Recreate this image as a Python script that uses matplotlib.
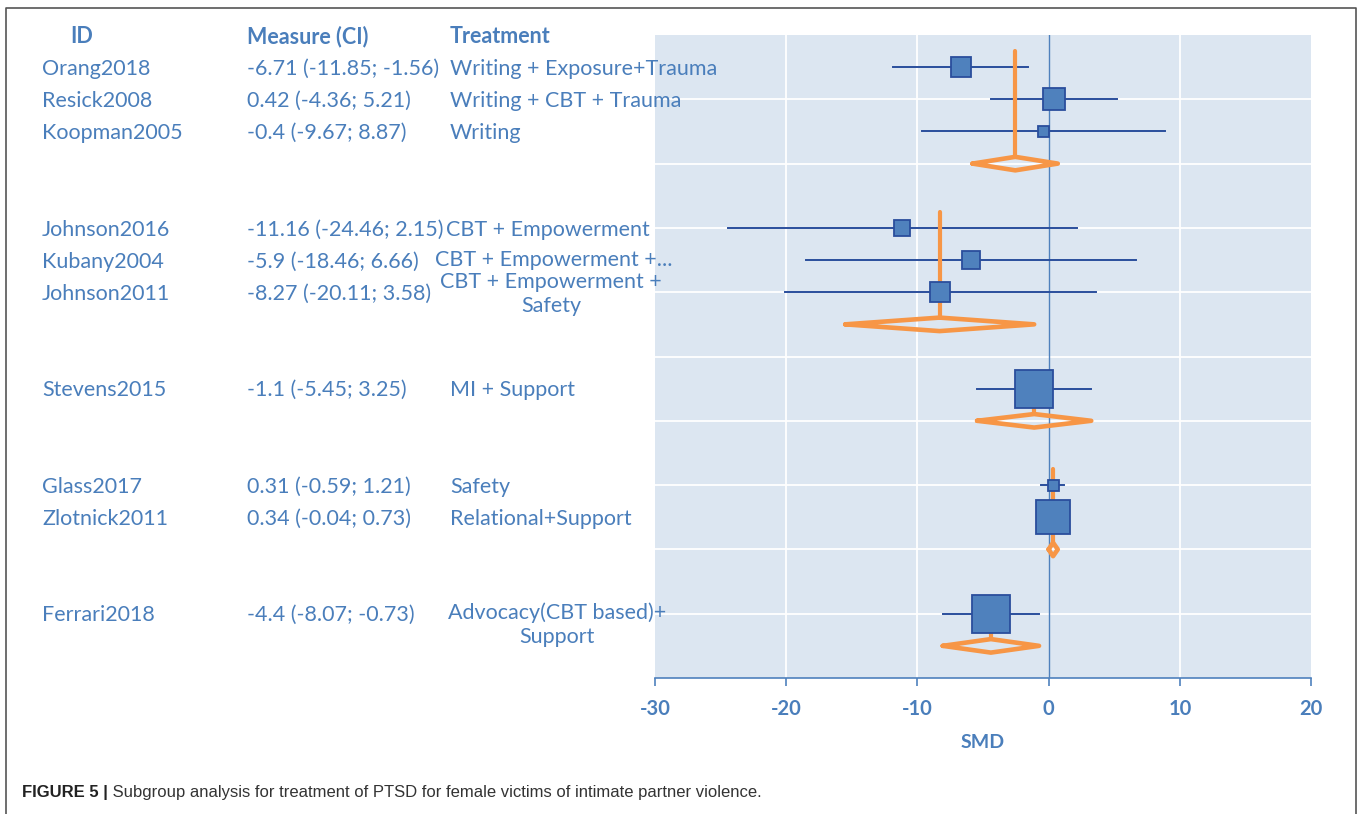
import matplotlib.pyplot as plt
import matplotlib.transforms as mtransforms

# study level data (SMD with 95% CI)
study_ids = ["Orang2018", "Resick2008", "Koopman2005", "Johnson2016", "Kubany2004",
             "Johnson2011", "Stevens2015", "Glass2017", "Zlotnick2011", "Ferrari2018"]
measures = [-6.71, 0.42, -0.4, -11.16, -5.9, -8.27, -1.1, 0.31, 0.34, -4.4]
ci_low = [-11.85, -4.36, -9.67, -24.46, -18.46, -20.11, -5.45, -0.59, -0.04, -8.07]
ci_high = [-1.56, 5.21, 8.87, 2.15, 6.66, 3.58, 3.25, 1.21, 0.73, -0.73]
treatments = ["Writing + Exposure+Trauma", "Writing + CBT + Trauma", "Writing",
              "CBT + Empowerment", "CBT + Empowerment +...", "CBT + Empowerment +\nSafety",
              "MI + Support", "Safety", "Relational+Support", "Advocacy(CBT based)+\nSupport"]
box_weight = [20, 22, 11, 16, 18, 20, 38, 11, 34, 38]

# subgroups (number of studies) and pooled estimates
group_sizes = [3, 3, 1, 2, 1]
pooled_est = [-2.54, -8.31, -1.1, 0.34, -4.4]
pooled_low = [-5.8, -15.5, -5.45, 0.0, -8.07]
pooled_high = [0.7, -1.1, 3.25, 0.7, -0.73]

x_ticks = [-30, -20, -10, 0, 10, 20]

TXT = "#4A7EBB"
BOX = "#4F81BD"
EDGE = "#2A4E9C"
ORANGE = "#F79646"
BG = "#DCE6F1"

plt.rcParams['font.family'] = ['Lato', 'DejaVu Sans']
plt.rcParams['axes.unicode_minus'] = False

# row positions: studies, then diamond row, then an empty row
study_rows, diamond_rows, group_tops = [], [], []
y = 19
for n in group_sizes:
    group_tops.append(y + 0.5)
    for _ in range(n):
        study_rows.append(y)
        y -= 1
    diamond_rows.append(y)
    y -= 2

W, H = 1358, 814
fig = plt.figure(figsize=(W / 100, H / 100), dpi=100)
ax = fig.add_axes([655 / W, (H - 678) / H, 656 / W, 643 / H])
ax.set_facecolor(BG)
ax.set_xlim(-30, 20)
ax.set_ylim(0, 20)

# grid
for gy in range(2, 20, 2):
    ax.axhline(gy, color="white", lw=1.3, zorder=1)
for gx in [-20, -10, 10]:
    ax.axvline(gx, color="white", lw=1.3, zorder=1)
ax.axvline(0, color=BOX, lw=1.0, zorder=2)

# confidence intervals and boxes
for i in range(len(measures)):
    ax.plot([ci_low[i], ci_high[i]], [study_rows[i]] * 2, color=EDGE, lw=1.4, zorder=3)
    ax.plot(measures[i], study_rows[i], marker="s", ms=box_weight[i] * 0.72,
            mfc=BOX, mec=EDGE, mew=1.3, zorder=5)

# pooled diamonds with vertical reference lines
dh = 0.21
for g in range(len(group_sizes)):
    yd = diamond_rows[g]
    ax.plot([pooled_est[g], pooled_est[g]], [yd + dh, group_tops[g]], color=ORANGE,
            lw=3.0, solid_capstyle="round", zorder=4)
    ax.plot([pooled_low[g], pooled_est[g], pooled_high[g], pooled_est[g], pooled_low[g]],
            [yd, yd + dh, yd, yd - dh, yd], color=ORANGE, lw=3.3,
            solid_joinstyle="round", solid_capstyle="round", zorder=4)

# axes styling
for s in ["top", "right", "left"]:
    ax.spines[s].set_visible(False)
ax.spines["bottom"].set_color(BOX)
ax.spines["bottom"].set_linewidth(1.2)
ax.set_yticks([])
ax.set_xticks(x_ticks)
ax.tick_params(axis="x", length=6, width=1.2, color=BOX, pad=9, labelsize=14.5,
               labelcolor=TXT)
for lab in ax.get_xticklabels():
    lab.set_fontweight("bold")
ax.set_xlabel("SMD", fontsize=14, fontweight="bold", color=TXT, labelpad=11)

# table on the left
tr = mtransforms.blended_transform_factory(fig.transFigure, ax.transData)
fs = 15.5
dy0 = -0.05
for hx, head in [(70, "ID"), (247, "Measure (CI)"), (450, "Treatment")]:
    ax.text(hx / W, 20.0 + dy0, head, transform=tr, fontsize=fs, fontweight="bold",
            color=TXT, va="center", ha="left")

treat_place = {3: (446, 0, "left"), 4: (435, 0.05, "left"),
               5: (551, 0, "center"), 9: (557, -0.3, "center")}
for i in range(len(study_ids)):
    yr = study_rows[i] + dy0
    ax.text(42 / W, yr, study_ids[i], transform=tr, fontsize=fs, color=TXT,
            va="center", ha="left")
    ax.text(247 / W, yr, f"{measures[i]:g} ({ci_low[i]:g}; {ci_high[i]:g})",
            transform=tr, fontsize=fs, color=TXT, va="center", ha="left")
    tx, dy, ha = treat_place.get(i, (450, 0, "left"))
    ax.text(tx / W, yr + dy, treatments[i], transform=tr, fontsize=fs, color=TXT,
            va="center", ha=ha, multialignment="center", linespacing=1.25)

# frame around the figure (open at the bottom)
fig.add_artist(plt.Line2D([6 / W, 6 / W, 1356 / W, 1356 / W],
                          [0, 1 - 8 / H, 1 - 8 / H, 0], color="#555555", lw=1.2))

# caption
cap = fig.text(22 / W, 1 - 793 / H, "FIGURE 5 |", fontsize=12, fontweight="bold",
               color="#222222", family="Liberation Sans", va="center", ha="left")
ax.annotate(" Subgroup analysis for treatment of PTSD for female victims of intimate partner violence.",
            xy=(1, 0), xycoords=cap, va="bottom", ha="left", fontsize=12,
            color="#333333", family="Liberation Sans", annotation_clip=False)

fig.savefig("out.png", dpi=100)
